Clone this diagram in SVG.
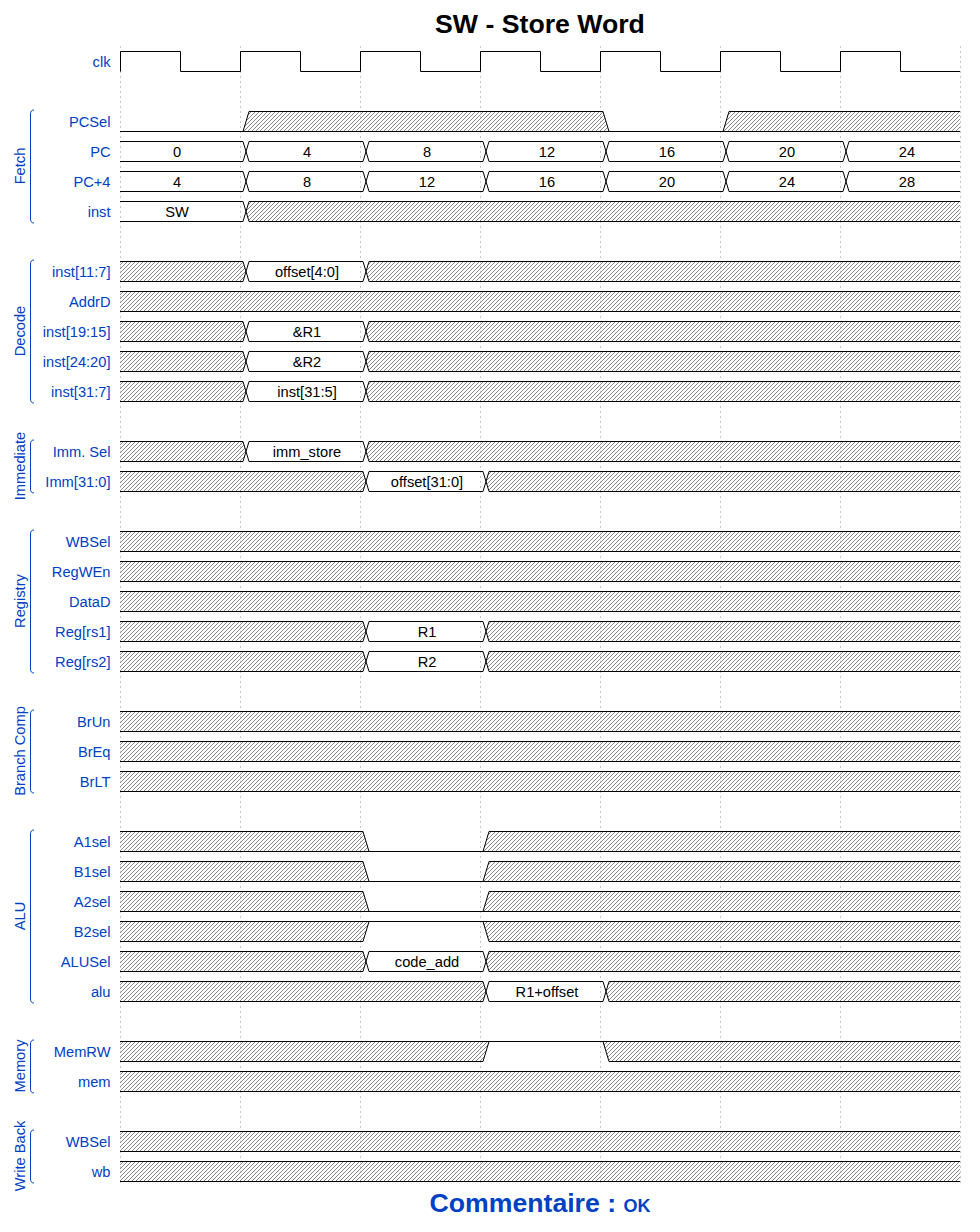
<svg xmlns="http://www.w3.org/2000/svg" width="980" height="1232" viewBox="0 0 980 1232">
  <style>
    .bg { fill: #fff; }
    .grid { stroke: #c8c8c8; stroke-width: 1; stroke-dasharray: 2,3; fill: none; }
    .hx { fill: url(#hatch); stroke: none; }
    .ln { fill: none; stroke: #000; stroke-width: 1; }
    .br { fill: none; stroke: #0041c4; stroke-width: 1; }
    .sig { font-family: "Liberation Sans", Arial, Helvetica, sans-serif; font-size: 14.67px; fill: #0041c4; text-anchor: end; }
    .val { font-family: "Liberation Sans", Arial, Helvetica, sans-serif; font-size: 14.67px; fill: #000; text-anchor: middle; }
    .grp { font-family: "Liberation Sans", Arial, Helvetica, sans-serif; font-size: 14.67px; fill: #0041c4; text-anchor: middle; }
    .head { font-family: "Liberation Sans", Arial, Helvetica, sans-serif; font-size: 26.67px; font-weight: bold; fill: #000; text-anchor: middle; }
    .foot { font-family: "Liberation Sans", Arial, Helvetica, sans-serif; font-size: 26.67px; font-weight: bold; fill: #0041c4; text-anchor: middle; }
  </style>
  <defs>
    <!-- diagonal hatch used for "don't care" (x) regions -->
    <pattern id="hatch" width="4" height="4" patternUnits="userSpaceOnUse">
      <path d="M-1,1 l2,-2 M0,4 l4,-4 M3,5 l2,-2" stroke="#888" stroke-width="1"/>
    </pattern>
    <!-- whole lane undefined -->
    <g id="xfull">
      <path class="hx" d="M120,.5H960V20.5H120Z"/>
      <path class="ln" d="M120,.5H960M120,20.5H960"/>
    </g>
    <!-- x, value in cycle 1, x -->
    <g id="xd1">
      <path class="hx" d="M120,.5H243L246,10.5L243,20.5H120Z"/>
      <path class="hx" d="M369,.5L366,10.5L369,20.5H960V.5Z"/>
      <path class="ln" d="M120,.5H243L249,20.5H363L369,.5H960"/>
      <path class="ln" d="M120,20.5H243L249,.5H363L369,20.5H960"/>
    </g>
    <!-- x, x, value in cycle 2, x -->
    <g id="xd2">
      <path class="hx" d="M120,.5H363L366,10.5L363,20.5H120Z"/>
      <path class="hx" d="M489,.5L486,10.5L489,20.5H960V.5Z"/>
      <path class="ln" d="M120,.5H363L369,20.5H483L489,.5H960"/>
      <path class="ln" d="M120,20.5H363L369,.5H483L489,20.5H960"/>
    </g>
    <!-- x, x, x, value in cycle 3, x -->
    <g id="xd3">
      <path class="hx" d="M120,.5H483L486,10.5L483,20.5H120Z"/>
      <path class="hx" d="M609,.5L606,10.5L609,20.5H960V.5Z"/>
      <path class="ln" d="M120,.5H483L489,20.5H603L609,.5H960"/>
      <path class="ln" d="M120,20.5H483L489,.5H603L609,20.5H960"/>
    </g>
    <!-- x, x, low in cycle 2, x -->
    <g id="x0x">
      <path class="hx" d="M120,.5H363L369,20.5H120Z"/>
      <path class="hx" d="M489,.5H960V20.5H483Z"/>
      <path class="ln" d="M120,20.5H960M120,.5H363L369,20.5M483,20.5L489,.5H960"/>
    </g>
    <!-- seven consecutive bus values -->
    <g id="bus7">
      <path class="ln" d="M120,.5H243L249,20.5H363L369,.5H483L489,20.5H603L609,.5H723L729,20.5H843L849,.5H960"/>
      <path class="ln" d="M120,20.5H243L249,.5H363L369,20.5H483L489,.5H603L609,20.5H723L729,.5H843L849,20.5H960"/>
    </g>
  </defs>

  <rect class="bg" x="0" y="0" width="980" height="1232"/>

  <text class="head" x="540" y="33">SW - Store Word</text>

  <!-- cycle grid -->
  <g id="grid">
    <path class="grid" d="M120.5,46V1184M240.5,46V1184M360.5,46V1184M480.5,46V1184M600.5,46V1184M720.5,46V1184M840.5,46V1184M960.5,46V1184"/>
  </g>

  <!-- group brackets and titles -->
  <g id="groups">
    <g id="grp-fetch">
      <path class="br" d="M34,110c-2.5,0 -3.5,1.5 -3.5,4V219c0,2.5 1,4 3.5,4"/>
      <text class="grp" transform="translate(25,166) rotate(-90)">Fetch</text>
    </g>
    <g id="grp-decode">
      <path class="br" d="M34,260c-2.5,0 -3.5,1.5 -3.5,4V399c0,2.5 1,4 3.5,4"/>
      <text class="grp" transform="translate(25,331) rotate(-90)">Decode</text>
    </g>
    <g id="grp-immediate">
      <path class="br" d="M34,440c-2.5,0 -3.5,1.5 -3.5,4V489c0,2.5 1,4 3.5,4"/>
      <text class="grp" transform="translate(25,466) rotate(-90)">Immediate</text>
    </g>
    <g id="grp-registry">
      <path class="br" d="M34,530c-2.5,0 -3.5,1.5 -3.5,4V669c0,2.5 1,4 3.5,4"/>
      <text class="grp" transform="translate(25,601) rotate(-90)">Registry</text>
    </g>
    <g id="grp-branch">
      <path class="br" d="M34,710c-2.5,0 -3.5,1.5 -3.5,4V789c0,2.5 1,4 3.5,4"/>
      <text class="grp" transform="translate(25,751) rotate(-90)">Branch Comp</text>
    </g>
    <g id="grp-alu">
      <path class="br" d="M34,830c-2.5,0 -3.5,1.5 -3.5,4V999c0,2.5 1,4 3.5,4"/>
      <text class="grp" transform="translate(25,916) rotate(-90)">ALU</text>
    </g>
    <g id="grp-memory">
      <path class="br" d="M34,1040c-2.5,0 -3.5,1.5 -3.5,4V1089c0,2.5 1,4 3.5,4"/>
      <text class="grp" transform="translate(25,1066) rotate(-90)">Memory</text>
    </g>
    <g id="grp-writeback">
      <path class="br" d="M34,1130c-2.5,0 -3.5,1.5 -3.5,4V1179c0,2.5 1,4 3.5,4"/>
      <text class="grp" transform="translate(25,1156) rotate(-90)">Write Back</text>
    </g>
  </g>

  <!-- signal lanes -->
  <g id="lanes">
    <g id="lane-clk" transform="translate(0,51)">
      <text class="sig" x="110.5" y="15.5">clk</text>
      <path class="ln" d="M120.5,20.5V.5H180.5V20.5H240.5V.5H300.5V20.5H360.5V.5H420.5V20.5H480.5V.5H540.5V20.5H600.5V.5H660.5V20.5H720.5V.5H780.5V20.5H840.5V.5H900.5V20.5H960"/>
    </g>

    <g id="lane-pcsel" transform="translate(0,111)">
      <text class="sig" x="110.5" y="15.5">PCSel</text>
      <path class="hx" d="M249,.5H603L609,20.5H243Z"/>
      <path class="hx" d="M729,.5H960V20.5H723Z"/>
      <path class="ln" d="M120,20.5H960M243,20.5L249,.5H603L609,20.5M723,20.5L729,.5H960"/>
    </g>

    <g id="lane-pc" transform="translate(0,141)">
      <text class="sig" x="110.5" y="15.5">PC</text>
      <use href="#bus7"/>
      <text class="val" x="177" y="15.5">0</text>
      <text class="val" x="307" y="15.5">4</text>
      <text class="val" x="427" y="15.5">8</text>
      <text class="val" x="547" y="15.5">12</text>
      <text class="val" x="667" y="15.5">16</text>
      <text class="val" x="787" y="15.5">20</text>
      <text class="val" x="907" y="15.5">24</text>
    </g>

    <g id="lane-pc4" transform="translate(0,171)">
      <text class="sig" x="110.5" y="15.5">PC+4</text>
      <use href="#bus7"/>
      <text class="val" x="177" y="15.5">4</text>
      <text class="val" x="307" y="15.5">8</text>
      <text class="val" x="427" y="15.5">12</text>
      <text class="val" x="547" y="15.5">16</text>
      <text class="val" x="667" y="15.5">20</text>
      <text class="val" x="787" y="15.5">24</text>
      <text class="val" x="907" y="15.5">28</text>
    </g>

    <g id="lane-inst" transform="translate(0,201)">
      <text class="sig" x="110.5" y="15.5">inst</text>
      <path class="hx" d="M249,.5L246,10.5L249,20.5H960V.5Z"/>
      <path class="ln" d="M120,.5H243L249,20.5H960M120,20.5H243L249,.5H960"/>
      <text class="val" x="177" y="15.5">SW</text>
    </g>

    <g id="lane-inst11-7" transform="translate(0,261)">
      <text class="sig" x="110.5" y="15.5">inst[11:7]</text>
      <use href="#xd1"/>
      <text class="val" x="307" y="15.5">offset[4:0]</text>
    </g>
    <g id="lane-addrd" transform="translate(0,291)">
      <text class="sig" x="110.5" y="15.5">AddrD</text>
      <use href="#xfull"/>
    </g>
    <g id="lane-inst19-15" transform="translate(0,321)">
      <text class="sig" x="110.5" y="15.5">inst[19:15]</text>
      <use href="#xd1"/>
      <text class="val" x="307" y="15.5">&amp;R1</text>
    </g>
    <g id="lane-inst24-20" transform="translate(0,351)">
      <text class="sig" x="110.5" y="15.5">inst[24:20]</text>
      <use href="#xd1"/>
      <text class="val" x="307" y="15.5">&amp;R2</text>
    </g>
    <g id="lane-inst31-7" transform="translate(0,381)">
      <text class="sig" x="110.5" y="15.5">inst[31:7]</text>
      <use href="#xd1"/>
      <text class="val" x="307" y="15.5">inst[31:5]</text>
    </g>

    <g id="lane-immsel" transform="translate(0,441)">
      <text class="sig" x="110.5" y="15.5">Imm. Sel</text>
      <use href="#xd1"/>
      <text class="val" x="307" y="15.5">imm_store</text>
    </g>
    <g id="lane-imm" transform="translate(0,471)">
      <text class="sig" x="110.5" y="15.5">Imm[31:0]</text>
      <use href="#xd2"/>
      <text class="val" x="427" y="15.5">offset[31:0]</text>
    </g>

    <g id="lane-wbsel-reg" transform="translate(0,531)">
      <text class="sig" x="110.5" y="15.5">WBSel</text>
      <use href="#xfull"/>
    </g>
    <g id="lane-regwen" transform="translate(0,561)">
      <text class="sig" x="110.5" y="15.5">RegWEn</text>
      <use href="#xfull"/>
    </g>
    <g id="lane-datad" transform="translate(0,591)">
      <text class="sig" x="110.5" y="15.5">DataD</text>
      <use href="#xfull"/>
    </g>
    <g id="lane-regrs1" transform="translate(0,621)">
      <text class="sig" x="110.5" y="15.5">Reg[rs1]</text>
      <use href="#xd2"/>
      <text class="val" x="427" y="15.5">R1</text>
    </g>
    <g id="lane-regrs2" transform="translate(0,651)">
      <text class="sig" x="110.5" y="15.5">Reg[rs2]</text>
      <use href="#xd2"/>
      <text class="val" x="427" y="15.5">R2</text>
    </g>

    <g id="lane-brun" transform="translate(0,711)">
      <text class="sig" x="110.5" y="15.5">BrUn</text>
      <use href="#xfull"/>
    </g>
    <g id="lane-breq" transform="translate(0,741)">
      <text class="sig" x="110.5" y="15.5">BrEq</text>
      <use href="#xfull"/>
    </g>
    <g id="lane-brlt" transform="translate(0,771)">
      <text class="sig" x="110.5" y="15.5">BrLT</text>
      <use href="#xfull"/>
    </g>

    <g id="lane-a1sel" transform="translate(0,831)">
      <text class="sig" x="110.5" y="15.5">A1sel</text>
      <use href="#x0x"/>
    </g>
    <g id="lane-b1sel" transform="translate(0,861)">
      <text class="sig" x="110.5" y="15.5">B1sel</text>
      <use href="#x0x"/>
    </g>
    <g id="lane-a2sel" transform="translate(0,891)">
      <text class="sig" x="110.5" y="15.5">A2sel</text>
      <use href="#x0x"/>
    </g>
    <g id="lane-b2sel" transform="translate(0,921)">
      <text class="sig" x="110.5" y="15.5">B2sel</text>
      <path class="hx" d="M120,.5H369L363,20.5H120Z"/>
      <path class="hx" d="M483,.5H960V20.5H489Z"/>
      <path class="ln" d="M120,.5H960M120,20.5H363L369,.5M483,.5L489,20.5H960"/>
    </g>
    <g id="lane-alusel" transform="translate(0,951)">
      <text class="sig" x="110.5" y="15.5">ALUSel</text>
      <use href="#xd2"/>
      <text class="val" x="427" y="15.5">code_add</text>
    </g>
    <g id="lane-alu" transform="translate(0,981)">
      <text class="sig" x="110.5" y="15.5">alu</text>
      <use href="#xd3"/>
      <text class="val" x="547" y="15.5">R1+offset</text>
    </g>

    <g id="lane-memrw" transform="translate(0,1041)">
      <text class="sig" x="110.5" y="15.5">MemRW</text>
      <path class="hx" d="M120,.5H489L483,20.5H120Z"/>
      <path class="hx" d="M603,.5H960V20.5H609Z"/>
      <path class="ln" d="M120,.5H960M120,20.5H483L489,.5M603,.5L609,20.5H960"/>
    </g>
    <g id="lane-mem" transform="translate(0,1071)">
      <text class="sig" x="110.5" y="15.5">mem</text>
      <use href="#xfull"/>
    </g>

    <g id="lane-wbsel" transform="translate(0,1131)">
      <text class="sig" x="110.5" y="15.5">WBSel</text>
      <use href="#xfull"/>
    </g>
    <g id="lane-wb" transform="translate(0,1161)">
      <text class="sig" x="110.5" y="15.5">wb</text>
      <use href="#xfull"/>
    </g>
  </g>

  <text class="foot" x="540" y="1212">Commentaire : <tspan font-size="18">OK</tspan></text>
</svg>
